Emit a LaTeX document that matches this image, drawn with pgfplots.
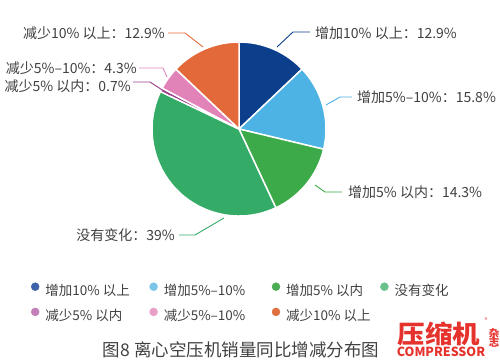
\documentclass[border=0pt]{standalone}
\usepackage{fontspec}
\setmainfont{Noto Sans CJK SC}
\usepackage{pgfplots}
\usepackage{pgfplotstable}
\pgfplotsset{compat=1.18}
\definecolor{cA}{HTML}{0B3F8C}
\definecolor{cB}{HTML}{4DB3E4}
\definecolor{cC}{HTML}{3CAA48}
\definecolor{cD}{HTML}{35AB68}
\definecolor{cE}{HTML}{9A3F8C}
\definecolor{cF}{HTML}{E182B8}
\definecolor{cG}{HTML}{E4693A}
\definecolor{lA}{HTML}{3D62A8}
\definecolor{lB}{HTML}{7CC5E8}
\definecolor{lC}{HTML}{4CAC55}
\definecolor{lD}{HTML}{6ABF8A}
\definecolor{lE}{HTML}{C27FB8}
\definecolor{lF}{HTML}{E8A0C5}
\definecolor{lG}{HTML}{E07040}
\definecolor{txt}{HTML}{404040}
\definecolor{logo}{HTML}{E5322D}

\pgfplotstableread{
value color
12.9 cA
15.8 cB
14.3 cC
39 cD
0.7 cE
4.3 cF
12.9 cG
}\piedata

\begin{document}
\begin{tikzpicture}
\begin{axis}[
  x=1pt, y=1pt, xmin=0, xmax=500, ymin=0, ymax=359,
  scale only axis, hide axis, clip=false,
  legend columns=4,
  legend image code/.code={\fill[#1] (0pt,4.5pt) circle (4pt);},
  legend style={draw=none, fill=none, inner sep=0pt, outer sep=0pt,
    at={(axis cs:31,76.5)}, anchor=north west,
    font=\fontsize{13.5}{15}\selectfont, text=txt,
    nodes={inner sep=0pt, text height=10.5pt, text depth=2.5pt},
    row sep=10pt, column sep=0pt},
  /tikz/every odd column/.append style={column sep=6pt},
  legend cell align=left,
]
\xdef\cum{0}
\pgfplotsinvokeforeach{0,...,6}{
  \pgfplotstablegetelem{#1}{value}\of\piedata
  \let\val\pgfplotsretval
  \pgfplotstablegetelem{#1}{color}\of\piedata
  \let\col\pgfplotsretval
  \pgfmathsetmacro\a{90-\cum/99.9*360}
  \pgfmathsetmacro\b{90-(\cum+\val)/99.9*360}
  \pgfmathsetmacro\sx{239+87*cos(\a)}
  \pgfmathsetmacro\sy{230+87*sin(\a)}
  \pgfmathsetmacro\newcum{\cum+\val}
  \xdef\cum{\newcum}
  \edef\cmd{\noexpand\fill[\col,draw=white,line width=1.5pt,line join=round] (axis cs:239,230) -- (axis cs:\sx,\sy) arc[start angle=\a,end angle=\b,radius=87pt] -- cycle;}
  \cmd
}
\addlegendimage{lA}\addlegendentry{\makebox[104pt][l]{增加10\% 以上}}
\addlegendimage{lB}\addlegendentry{\makebox[108pt][l]{增加5\%–10\%}}
\addlegendimage{lC}\addlegendentry{\makebox[94pt][l]{增加5\% 以内}}
\addlegendimage{lD}\addlegendentry{没有变化}
\addlegendimage{lE}\addlegendentry{减少5\% 以内}
\addlegendimage{lF}\addlegendentry{减少5\%–10\%}
\addlegendimage{lG}\addlegendentry{减少10\% 以上}

% leader lines
\draw[cA, line width=0.9pt] (axis cs:277,312) -- (axis cs:293,327) -- (axis cs:310,327);
\draw[cB, line width=0.9pt] (axis cs:326,254) -- (axis cs:340,262) -- (axis cs:352,262);
\draw[cC, line width=0.9pt] (axis cs:315,174) -- (axis cs:325,167) -- (axis cs:342,167);
\draw[cD, line width=0.9pt] (axis cs:224,141) -- (axis cs:195,124) -- (axis cs:179,124);
\draw[cG, line width=0.9pt] (axis cs:203,312) -- (axis cs:185,326) -- (axis cs:168,326);
\draw[cF, line width=0.9pt] (axis cs:167,282) -- (axis cs:163,291) -- (axis cs:139,291);
\draw[cE, line width=0.9pt] (axis cs:170,264) -- (axis cs:150,277) -- (axis cs:133,277);

\begin{scope}[every node/.style={font=\fontsize{14}{16}\selectfont, text=txt, inner sep=0pt}]
\node[anchor=west] at (axis cs:315,326) {增加10\% 以上：12.9\%};
\node[anchor=west] at (axis cs:357,262) {增加5\%–10\%：15.8\%};
\node[anchor=west] at (axis cs:348,167) {增加5\% 以内：14.3\%};
\node[anchor=east] at (axis cs:175,124) {没有变化：39\%};
\node[anchor=east] at (axis cs:165,326) {减少10\% 以上：12.9\%};
\node[anchor=east] at (axis cs:137,291) {减少5\%–10\%：4.3\%};
\node[anchor=east] at (axis cs:131,273) {减少5\% 以内：0.7\%};
\end{scope}

\node[font=\fontsize{17.5}{19}\selectfont, text=txt] at (axis cs:241,9) {图8 离心空压机销量同比增减分布图};
\node[font=\fontsize{25}{27}\selectfont\bfseries, text=logo, xscale=1.1] at (axis cs:439,25) {压缩机};
\node[font=\fontsize{12.5}{14}\selectfont\bfseries, text=logo, inner sep=0pt] at (axis cs:441,7) {COMPRESSOR};
\node[font=\fontsize{10.5}{11}\selectfont\bfseries, text=logo, align=center, inner sep=0pt] at (axis cs:494,21) {杂\\[-2pt]志};
\node[font=\fontsize{6}{7}\selectfont, text=logo, inner sep=0pt] at (axis cs:486,39) {®};
\end{axis}
\pgfresetboundingbox
\path[use as bounding box] (0,0) rectangle (500pt,359pt);
\end{tikzpicture}
\end{document}
